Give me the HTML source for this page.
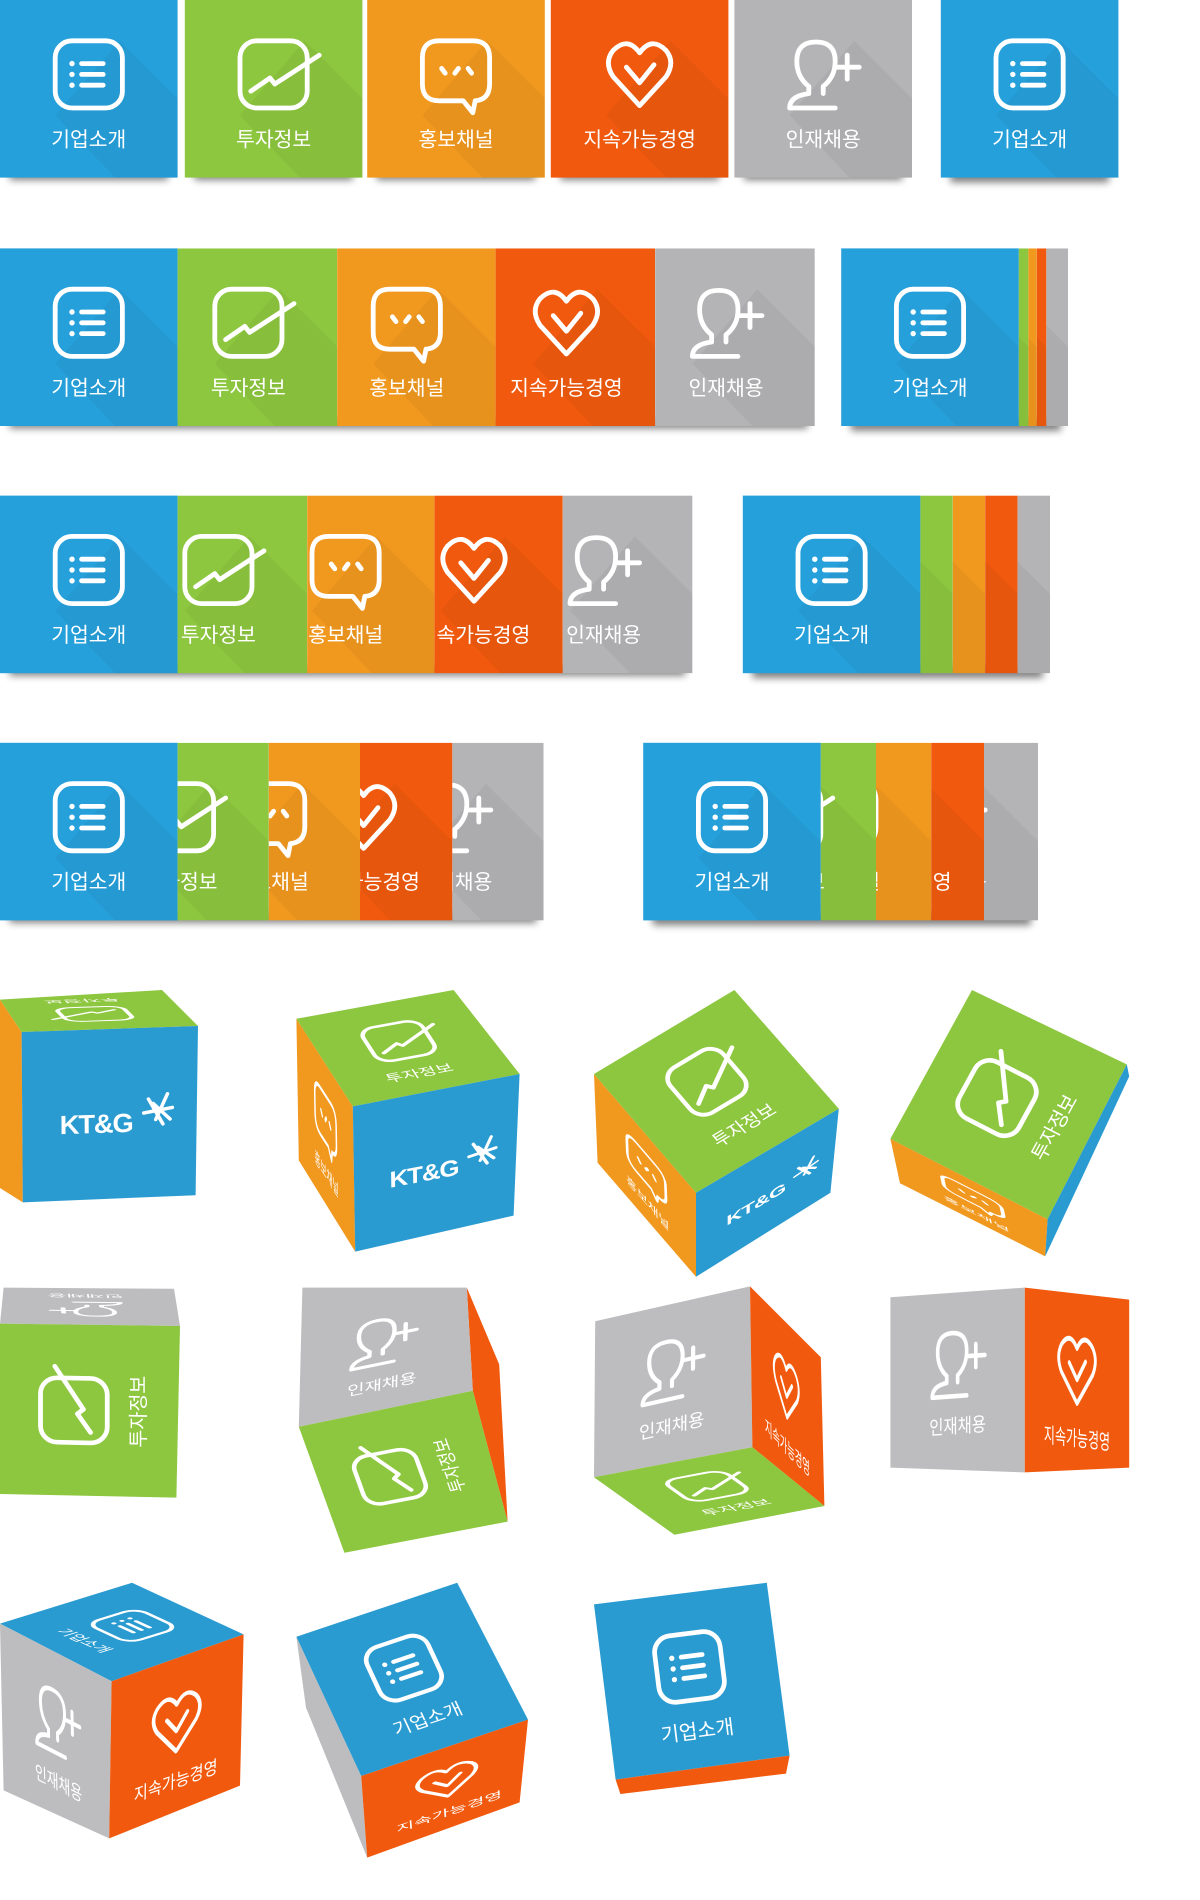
<!DOCTYPE html>
<html><head><meta charset="utf-8">
<style>
html,body{margin:0;padding:0;background:#fff;}
svg{display:block;}
text{font-family:"Liberation Sans","Noto Sans CJK KR",sans-serif;fill:#fff;}
</style></head>
<body>
<svg width="1200" height="1900" viewBox="0 0 1000 1583.33" xmlns="http://www.w3.org/2000/svg" xmlns:xlink="http://www.w3.org/1999/xlink">
<defs>
<filter id="sh" x="-20%" y="-200%" width="140%" height="500%"><feGaussianBlur stdDeviation="3"/></filter>
<g id="i-list" fill="none" stroke="#fff" stroke-width="4" stroke-linecap="round">
 <rect x="2" y="2" width="56" height="56" rx="14"/>
 <line x1="24" y1="21" x2="42" y2="21"/><line x1="24" y1="30" x2="42" y2="30"/><line x1="24" y1="39" x2="42" y2="39"/>
 <circle cx="16" cy="21" r="1.5" fill="#fff" stroke-width="1.5"/><circle cx="16" cy="30" r="1.5" fill="#fff" stroke-width="1.5"/><circle cx="16" cy="39" r="1.5" fill="#fff" stroke-width="1.5"/>
</g>
<g id="i-chart" fill="none" stroke="#fff" stroke-width="4" stroke-linecap="round" stroke-linejoin="round">
 <rect x="2" y="2" width="56" height="56" rx="14"/>
 <polyline points="11,44 27,33 31,38 68,14"/>
</g>
<g id="i-bub" fill="none" stroke="#fff" stroke-width="4" stroke-linecap="round" stroke-linejoin="round">
 <path d="M16,2 H44 Q58,2 58,16 V38 Q58,51 46,52 L44,62 L36,52 H16 Q2,52 2,38 V16 Q2,2 16,2 Z"/>
 <line x1="18" y1="25" x2="21" y2="29"/><line x1="32" y1="25" x2="29" y2="29"/><line x1="40" y1="25" x2="43" y2="29"/>
</g>
<g id="i-heart" fill="none" stroke="#fff" stroke-width="4" stroke-linecap="round" stroke-linejoin="round">
 <path d="M30,56 L8,32 Q0,20 8,10 Q20,-2 30,12 Q40,-2 52,10 Q60,20 52,32 Z"/>
 <polyline points="19,24 30,37 42,22"/>
</g>
<g id="i-user" fill="none" stroke="#fff" stroke-width="4" stroke-linecap="round" stroke-linejoin="round">
 <path d="M18,40 Q8,32 8,19 Q8,3 24,3 Q40,3 40,19 Q40,32 30,40 L30,46 M18,40 L18,46 Q2,48 2,58 L40,58"/>
 <line x1="50" y1="14" x2="50" y2="34"/><line x1="40" y1="24" x2="60" y2="24"/>
</g>
<g id="lsh"><polygon points="100,34 148,82 148,148 96,148 46,96" fill="#000" opacity="0.04"/></g>
<g id="xb"><use href="#i-list" x="44" y="32"/><text x="74" y="122" font-size="17" text-anchor="middle">기업소개</text></g>
<g id="xg"><use href="#i-chart" x="44" y="32"/><text x="74" y="122" font-size="17" text-anchor="middle">투자정보</text></g>
<g id="xo"><use href="#i-bub" x="44" y="32"/><text x="74" y="122" font-size="17" text-anchor="middle">홍보채널</text></g>
<g id="xr"><use href="#i-heart" x="44" y="32"/><text x="74" y="122" font-size="17" text-anchor="middle">지속가능경영</text></g>
<g id="xy"><use href="#i-user" x="44" y="32"/><text x="74" y="122" font-size="17" text-anchor="middle">인재채용</text></g>
<g id="kt"><text x="62" y="90" font-size="23" font-weight="bold" text-anchor="middle" letter-spacing="-1">KT&amp;G</text>
 <g stroke="#fff" stroke-width="3" stroke-linecap="round"><line x1="106" y1="62" x2="118" y2="84"/><line x1="122" y1="58" x2="112" y2="80"/><line x1="102" y1="74" x2="126" y2="70"/><line x1="110" y1="66" x2="124" y2="80"/></g></g>
<g id="cb"><rect width="148" height="148" fill="#26a0db"/><use href="#lsh"/><use href="#xb"/></g>
<g id="cg"><rect width="148" height="148" fill="#8dc63f"/><use href="#lsh"/><use href="#xg"/></g>
<g id="co"><rect width="148" height="148" fill="#f1981f"/><use href="#lsh"/><use href="#xo"/></g>
<g id="cr"><rect width="148" height="148" fill="#f15a0e"/><use href="#lsh"/><use href="#xr"/></g>
<g id="cy"><rect width="148" height="148" fill="#b4b4b6"/><use href="#lsh"/><use href="#xy"/></g>
</defs>

<g filter="url(#sh)" fill="#000" opacity="0.5">
 <rect x="8" y="142" width="132" height="8"/><rect x="162" y="142" width="132" height="8"/><rect x="314" y="142" width="132" height="8"/><rect x="467" y="142" width="132" height="8"/><rect x="620" y="142" width="132" height="8"/><rect x="792" y="142" width="132" height="10"/>
 <rect x="8" y="349" width="665" height="8"/><rect x="709" y="349" width="175" height="10"/>
 <rect x="8" y="555" width="563" height="8"/><rect x="627" y="555" width="242" height="10"/>
 <rect x="8" y="761" width="439" height="8"/><rect x="544" y="761" width="315" height="10"/>
</g>

<use href="#cb" x="0" y="0"/><use href="#cg" x="154" y="0"/><use href="#co" x="306" y="0"/><use href="#cr" x="459" y="0"/><use href="#cy" x="612" y="0"/><use href="#cb" x="784" y="0"/>

<use href="#cb" x="0" y="207"/>
<svg x="148" y="207" width="133" height="148"><use href="#cg" x="-15"/></svg>
<svg x="281" y="207" width="132" height="148"><use href="#co" x="-16"/></svg>
<svg x="413" y="207" width="133" height="148"><use href="#cr" x="-15"/></svg>
<svg x="546" y="207" width="133" height="148"><use href="#cy" x="-15"/></svg>
<use href="#cb" x="701" y="207"/>
<svg x="849" y="207" width="8" height="148"><use href="#cg" x="-140"/></svg>
<svg x="857" y="207" width="7" height="148"><use href="#co" x="-141"/></svg>
<svg x="864" y="207" width="8" height="148"><use href="#cr" x="-140"/></svg>
<svg x="872" y="207" width="18" height="148"><use href="#cy" x="-130"/></svg>

<use href="#cb" x="0" y="413"/>
<svg x="148" y="413" width="108" height="148"><use href="#cg" x="-40"/></svg>
<svg x="256" y="413" width="106" height="148"><use href="#co" x="-42"/></svg>
<svg x="362" y="413" width="107" height="148"><use href="#cr" x="-41"/></svg>
<svg x="469" y="413" width="108" height="148"><use href="#cy" x="-40"/></svg>
<use href="#cb" x="619" y="413"/>
<svg x="767" y="413" width="27" height="148"><use href="#cg" x="-121"/></svg>
<svg x="794" y="413" width="27" height="148"><use href="#co" x="-121"/></svg>
<svg x="821" y="413" width="27" height="148"><use href="#cr" x="-121"/></svg>
<svg x="848" y="413" width="27" height="148"><use href="#cy" x="-121"/></svg>

<use href="#cb" x="0" y="619"/>
<svg x="148" y="619" width="76" height="148"><use href="#cg" x="-72"/></svg>
<svg x="224" y="619" width="76" height="148"><use href="#co" x="-72"/></svg>
<svg x="300" y="619" width="77" height="148"><use href="#cr" x="-71"/></svg>
<svg x="377" y="619" width="76" height="148"><use href="#cy" x="-72"/></svg>
<use href="#cb" x="536" y="619"/>
<svg x="684" y="619" width="46" height="148"><use href="#cg" x="-102"/></svg>
<svg x="730" y="619" width="46" height="148"><use href="#co" x="-102"/></svg>
<svg x="776" y="619" width="44" height="148"><use href="#cr" x="-104"/></svg>
<svg x="820" y="619" width="45" height="148"><use href="#cy" x="-103"/></svg>

<polygon points="0,833 18,860 19,1002 0,990" fill="#f1981f"/>
<polygon points="0,833 135,825 165,855 18,860" fill="#8dc63f"/>
<polygon points="18,860 165,855 163,996 19,1002" fill="#2a9bd1"/>
<use href="#xg" transform="matrix(-0.993,0.034,-0.203,-0.203,165,855)"/>
<use href="#kt" transform="matrix(0.993,-0.034,0.007,0.959,18,860)"/>

<polygon points="247,849 294,922 296,1043 249,967" fill="#f1981f"/>
<polygon points="247,849 378,825 433,895 294,922" fill="#8dc63f"/>
<polygon points="294,922 433,895 428,1013 296,1043" fill="#2a9bd1"/>
<use href="#xg" transform="matrix(0.885,-0.162,0.318,0.493,247,849)"/>
<use href="#kt" transform="matrix(0.939,-0.182,0.0135,0.818,294,922)"/>
<use href="#xo" transform="matrix(0.318,0.493,0.0135,0.797,247,849)"/>

<polygon points="495,895 580,994 580,1064 498,969" fill="#f1981f"/>
<polygon points="495,895 612,825 699,924 580,994" fill="#8dc63f"/>
<polygon points="580,994 699,924 692,994 580,1064" fill="#2a9bd1"/>
<use href="#xg" transform="matrix(0.791,-0.473,0.574,0.669,495,895)"/>
<use href="#kt" transform="matrix(0.804,-0.473,0,0.473,580,994)"/>
<use href="#xo" transform="matrix(0.574,0.669,0.02,0.5,495,895)"/>

<polygon points="742,949 873,1016 871,1047 750,986" fill="#f1981f"/>
<polygon points="742,949 810,825 939,887 873,1016" fill="#8dc63f"/>
<polygon points="939,887 873,1016 871,1047 941,897" fill="#2a9bd1"/>
<use href="#xg" transform="matrix(0.459,-0.838,0.885,0.453,742,949)"/>
<use href="#xo" transform="matrix(0.885,0.453,0.054,0.25,742,949)"/>

<polygon points="3,1073 145,1074 150,1105 0,1103" fill="#bdbdbf"/>
<polygon points="0,1103 150,1105 147,1248 0,1245" fill="#8dc63f"/>
<use href="#xy" transform="matrix(-1.014,-0.0135,-0.034,-0.209,150,1105)"/>
<use href="#xg" transform="matrix(0,-0.959,0.993,0.02,0,1245)"/>

<polygon points="389,1073 416,1137 423,1268 394,1159" fill="#f15a0e"/>
<polygon points="252,1073 389,1073 394,1159 249,1189" fill="#bdbdbf"/>
<polygon points="249,1189 394,1159 423,1268 287,1294" fill="#8dc63f"/>
<use href="#xy" transform="matrix(0.926,-0.189,-0.02,0.669,252,1090)"/>
<use href="#xg" transform="matrix(-0.257,-0.709,0.919,-0.176,287,1294)"/>

<polygon points="496,1101 625,1072 627,1206 495,1231" fill="#bdbdbf"/>
<polygon points="625,1072 684,1131 687,1255 627,1206" fill="#f15a0e"/>
<polygon points="495,1231 627,1206 687,1255 562,1279" fill="#8dc63f"/>
<use href="#xy" transform="matrix(0.872,-0.196,-0.007,0.878,496,1101)"/>
<use href="#xr" transform="matrix(0.399,0.399,0.0135,0.905,625,1072)"/>
<use href="#xg" transform="matrix(0.892,-0.169,0.453,0.324,495,1231)"/>

<polygon points="742,1081 854,1073 854,1227 742,1223" fill="#bdbdbf"/>
<polygon points="854,1073 941,1083 941,1223 854,1227" fill="#f15a0e"/>
<use href="#xy" transform="matrix(0.757,-0.054,0,0.959,742,1081)"/>
<use href="#xr" transform="matrix(0.588,0.068,0,1.04,854,1073)"/>

<polygon points="0,1353 110,1319 203,1362 93,1401" fill="#2a9bd1"/>
<polygon points="0,1353 93,1401 91,1532 3,1492" fill="#bdbdbf"/>
<polygon points="93,1401 203,1362 200,1488 91,1532" fill="#f15a0e"/>
<use href="#xb" transform="matrix(0.628,0.291,-0.743,0.23,110,1319)"/>
<use href="#xy" transform="matrix(0.628,0.324,0.02,0.939,0,1353)"/>
<use href="#xr" transform="matrix(0.743,-0.264,-0.0135,0.885,93,1401)"/>

<polygon points="247,1364 301,1480 306,1548 255,1423" fill="#bdbdbf"/>
<polygon points="247,1364 381,1319 440,1433 301,1480" fill="#2a9bd1"/>
<polygon points="301,1480 440,1433 433,1502 306,1548" fill="#f15a0e"/>
<use href="#xb" transform="matrix(0.905,-0.304,0.365,0.784,247,1364)"/>
<use href="#xr" transform="matrix(0.939,-0.318,0.034,0.459,301,1480)"/>

<polygon points="495,1337 639,1319 658,1463 513,1483" fill="#2a9bd1"/>
<polygon points="513,1483 658,1463 655,1478 517,1495" fill="#f15a0e"/>
<use href="#xb" transform="matrix(0.973,-0.122,0.122,0.986,495,1337)"/>
</svg>
</body></html>
